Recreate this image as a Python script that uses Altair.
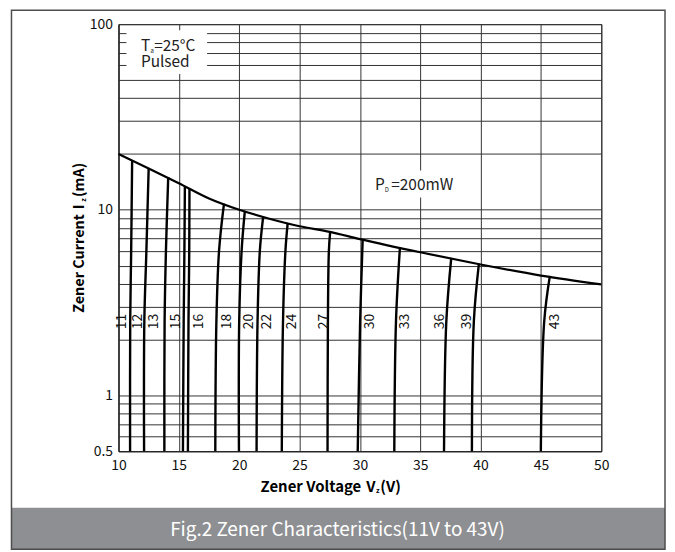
import altair as alt
import pandas as pd

FONT = "Noto Sans CJK SC"

# ---- data ----
zener_labels = ["11", "12", "13", "15", "16", "18", "20", "22", "24", "27", "30", "33", "36", "39", "43"]
v_bottom = [10.96, 12.12, 13.80, 15.34, 15.75, 18.02, 19.98, 21.44, 23.53, 27.32, 29.82, 32.85, 36.97, 39.28, 44.99]
v_mid = [10.97, 12.14, 13.82, 15.40, 15.80, 18.11, 20.00, 21.52, 23.63, 27.35, 30.02, 32.99, 37.16, 39.44, 45.27]
v_mid2 = [11.05, 12.31, 13.93, 15.46, 15.86, 18.33, 20.20, 21.71, 23.83, 27.43, None, None, None, None, None]
v_top = [11.13, 12.50, 14.12, 15.50, 15.88, 18.74, 20.47, 21.98, 24.02, 27.54, 30.23, 33.32, 37.57, 39.86, 45.74]
i_bottom = [0.5] * 15
i_mid = [2.5] * 15
i_mid2 = [6.0] * 15
i_top = [18.4, 16.8, 15.0, 13.4, 13.1, 10.8, 9.85, 9.1, 8.5, 7.65, 6.95, 6.3, 5.5, 5.12, 4.4]

label_v = [10.33, 11.65, 12.97, 14.78, 16.68, 18.99, 20.81, 22.29, 24.35, 27.0, 30.84, 33.75, 36.6, 38.87, 46.2]
label_i = [2.5] * 15

pd_v = [10, 12.5, 15, 17.5, 20, 22.5, 25, 27.5, 30, 35, 40, 45, 50]
pd_i = [20, 16.7, 13.9, 11.5, 10.0, 8.95, 8.15, 7.6, 6.95, 5.9, 5.07, 4.42, 3.96]

x_grid = [10, 12.5, 15, 17.5, 20, 22.5, 25, 27.5, 30, 32.5, 35, 37.5, 40, 42.5, 45, 47.5, 50]
y_grid = [0.5, 0.6, 0.7, 0.8, 0.9, 1, 2, 3, 4, 5, 6, 7, 8, 9, 10, 20, 30, 40, 50, 60, 70, 80, 90, 100]

rows = []
for k, name in enumerate(zener_labels):
    pts = [(v_bottom[k], i_bottom[k]), (v_mid[k], i_mid[k])]
    if v_mid2[k] is not None:
        pts.append((v_mid2[k], i_mid2[k]))
    pts.append((v_top[k], i_top[k]))
    for j, (v, i) in enumerate(pts):
        rows.append({"series": name, "idx": j, "V": v, "I": i})
curves = pd.DataFrame(rows)
labels_df = pd.DataFrame({"label": zener_labels, "V": label_v, "I": label_i})
pd_df = pd.DataFrame({"V": pd_v, "I": pd_i})
one = pd.DataFrame({"k": [0]})

xscale = alt.Scale(domain=[10, 50], nice=False, zero=False)
yscale = alt.Scale(type="log", domain=[0.5, 100], nice=False)

xaxis = alt.Axis(values=x_grid, format="~g", labelExpr="datum.value % 5 == 0 ? datum.label : ''",
                 title=None, ticks=False, grid=True, labelPadding=7, labelFlush=False)
yaxis = alt.Axis(values=y_grid, format="~g",
                 labelExpr="(datum.value == 0.5 || datum.value == 1 || datum.value == 10 || datum.value == 100) ? datum.label : ''",
                 title=None, ticks=False, grid=True, labelPadding=6, labelFlush=False)

zener = alt.Chart(curves).mark_line(color="#000", strokeWidth=2.4, strokeCap="butt",
                                    interpolate="catmull-rom").encode(
    x=alt.X("V:Q", scale=xscale, axis=xaxis),
    y=alt.Y("I:Q", scale=yscale, axis=yaxis),
    detail="series:N",
    order="idx:O",
)

pd_line = alt.Chart(pd_df).mark_line(color="#000", strokeWidth=2.2, interpolate="monotone").encode(
    x=alt.X("V:Q", scale=xscale), y=alt.Y("I:Q", scale=yscale)
)

zlabels = alt.Chart(labels_df).mark_text(font=FONT, fontSize=14, angle=270, align="center",
                                         baseline="middle", color="#111").encode(
    x=alt.X("V:Q", scale=xscale), y=alt.Y("I:Q", scale=yscale), text="label:N"
)


def box(x1, x2, y1, y2, **kw):
    return alt.Chart(one).mark_rect(**kw).encode(
        x=alt.value(x1), x2=alt.value(x2), y=alt.value(y1), y2=alt.value(y2))


def txt(s, x, y, size=14, weight="normal", align="left", color="#222", angle=0, baseline="alphabetic"):
    return alt.Chart(one).mark_text(text=s, font=FONT, fontSize=size, fontWeight=weight, align=align,
                                    baseline=baseline, color=color, angle=angle).encode(
        x=alt.value(x), y=alt.value(y))


ta_box = box(8, 89, 6, 50, fill="white")
pd_box = box(254, 338, 147, 174, fill="white")

band = box(-107.5, 549, 485.7, 527.5, fill="#8e8f92")
frame = box(-107.5, 549, -14, 527.5, fill="white", fillOpacity=0, stroke="#4d4d4d", strokeWidth=1.5)

texts = [
    txt("T", 22.5, 27, size=15.5),
    txt("a", 32.2, 28.5, size=6),
    txt("=25°C", 35.8, 27, size=15.5),
    txt("Pulsed", 22.5, 43.5, size=15.5),
    txt("P", 257.7, 166.5, size=15.5),
    txt("D", 267.5, 169, size=6),
    txt("=200mW", 274, 166.5, size=15.5),
    # x title
    txt("Zener Voltage", 142.7, 469.5, size=15, weight="bold", color="#000"),
    txt("V", 249, 469.5, size=15, weight="bold", color="#000"),
    txt("z", 258.7, 471, size=7, weight="bold", color="#000"),
    txt("(V)", 263, 469.5, size=15, weight="bold", color="#000"),
    # y title (rotated)
    txt("Zener Current", -35, 290, size=14.5, weight="bold", color="#000", angle=270),
    txt("I", -35, 186, size=14.5, weight="bold", color="#000", angle=270),
    txt("z", -33, 178.5, size=7, weight="bold", color="#000", angle=270),
    txt("(mA)", -35, 173.5, size=14.5, weight="bold", color="#000", angle=270),
    # caption
    txt("Fig.2 Zener Characteristics(11V to 43V)", 220, 514, size=19, color="#ffffff", align="center"),
]

chart = alt.layer(zener, pd_line, ta_box, pd_box, zlabels, band, frame, *texts).properties(
    width=485, height=429,
    autosize=alt.AutoSizeParams(type="none"),
    padding={"left": 111, "top": 15, "right": 66, "bottom": 100},
    background="white",
).configure_view(stroke="#222", strokeWidth=1).configure_axis(
    labelFont=FONT, labelFontSize=14, labelColor="#111", domainColor="#222", domainWidth=1,
    gridColor="#333", gridWidth=1, gridOpacity=1,
)

chart.save("out.html", embed_options={"renderer": "svg", "actions": False})
